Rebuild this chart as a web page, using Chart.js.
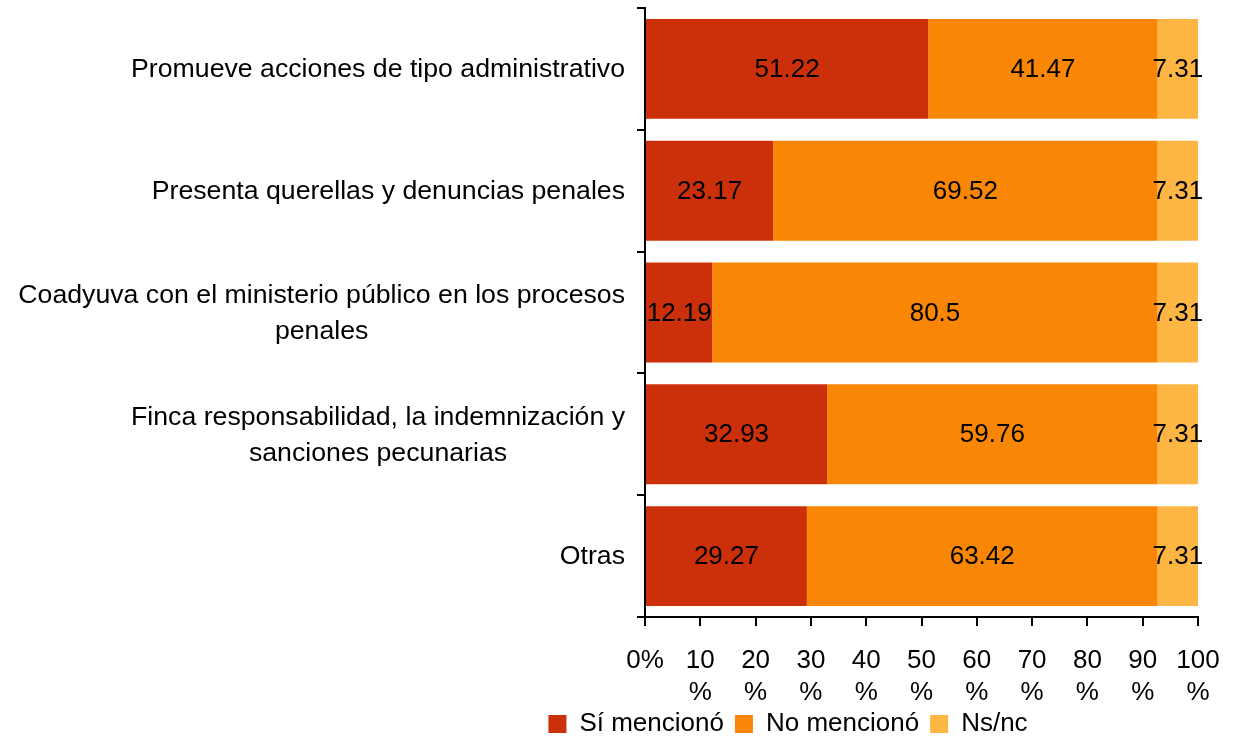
<!DOCTYPE html>
<html>
<head>
<meta charset="utf-8">
<script src="https://cdn.jsdelivr.net/npm/chart.js@4"></script>
<style>
  html, body { margin: 0; padding: 0; background: #fff; }
  #wrap { width: 1233px; height: 737px; position: relative; }
</style>
</head>
<body>
<div id="wrap"><canvas id="c" width="1233" height="737"></canvas></div>
<script>
const categories = [
  ["Promueve acciones de tipo administrativo"],
  ["Presenta querellas y denuncias penales"],
  ["Coadyuva con el ministerio público en los procesos", "penales"],
  ["Finca responsabilidad, la indemnización y", "sanciones pecunarias"],
  ["Otras"]
];
const siMenciono = [51.22, 23.17, 12.19, 32.93, 29.27];
const noMenciono = [41.47, 69.52, 80.5, 59.76, 63.42];
const nsnc = [7.31, 7.31, 7.31, 7.31, 7.31];
const seriesNames = ["Sí mencionó", "No mencionó", "Ns/nc"];
const xTickLabels = ["0%", ["10","%"], ["20","%"], ["30","%"], ["40","%"], ["50","%"], ["60","%"], ["70","%"], ["80","%"], ["90","%"], ["100","%"]];

const FONT = "'Liberation Sans', Arial, sans-serif";
const FS = 26;

const valueLabels = {
  id: 'valueLabels',
  afterDatasetsDraw(chart) {
    const ctx = chart.ctx;
    ctx.save();
    ctx.font = FS + 'px ' + FONT;
    ctx.fillStyle = '#000';
    ctx.textAlign = 'center';
    ctx.textBaseline = 'middle';
    chart.data.datasets.forEach((ds, di) => {
      const meta = chart.getDatasetMeta(di);
      meta.data.forEach((el, i) => {
        const cx = (el.x + el.base) / 2;
        ctx.fillText(String(ds.data[i]), cx, el.y + 1);
      });
    });
    ctx.restore();
  }
};

const categoryLabels = {
  id: 'categoryLabels',
  afterDraw(chart) {
    const ctx = chart.ctx;
    const ys = chart.scales.y;
    const right = chart.chartArea.left - 20;
    const lh = 36;
    ctx.save();
    ctx.font = '26.7px ' + FONT;
    ctx.fillStyle = '#000';
    ctx.textAlign = 'center';
    ctx.textBaseline = 'middle';
    categories.forEach((lines, i) => {
      const y = ys.getPixelForValue(i) + 1;
      const w = Math.max(...lines.map(l => ctx.measureText(l).width));
      const cx = right - w / 2;
      lines.forEach((l, j) => {
        ctx.fillText(l, cx, y + (j - (lines.length - 1) / 2) * lh);
      });
    });
    ctx.restore();
  }
};

// shift legend slightly lower by trimming its reserved height
const legendTrim = {
  id: 'legendTrim',
  beforeLayout(chart) {
    const lg = chart.legend;
    if (lg && !lg._trimmed) {
      const orig = lg.fit;
      lg.fit = function () { orig.call(this); this.height -= 10; };
      lg._trimmed = true;
    }
  }
};

new Chart(document.getElementById('c'), {
  type: 'bar',
  data: {
    labels: categories.map(c => c.join(' ')),
    datasets: [
      { label: seriesNames[0], data: siMenciono, backgroundColor: '#CC300A' },
      { label: seriesNames[1], data: noMenciono, backgroundColor: '#F98705' },
      { label: seriesNames[2], data: nsnc, backgroundColor: '#FDB544' }
    ]
  },
  options: {
    indexAxis: 'y',
    responsive: false,
    animation: false,
    devicePixelRatio: 1,
    layout: { padding: { left: 378, right: 35, top: 8, bottom: 0 } },
    datasets: { bar: { categoryPercentage: 1, barPercentage: 0.82, borderWidth: 0 } },
    scales: {
      x: {
        stacked: true,
        min: 0, max: 100,
        ticks: {
          stepSize: 10,
          color: '#000',
          font: { family: FONT, size: FS, lineHeight: 1.23 },
          padding: 19,
          maxRotation: 0,
          autoSkip: false,
          callback: (v, i) => xTickLabels[i]
        },
        grid: { drawOnChartArea: false, drawTicks: true, tickLength: 9, color: '#000', lineWidth: 2 },
        border: { color: '#000', width: 2 },
        afterFit(s) { s.height = 83; s.paddingRight = 22; s.paddingLeft = 20; }
      },
      y: {
        stacked: true,
        ticks: { display: false },
        grid: { offset: true, drawOnChartArea: false, drawTicks: true, tickLength: 8, color: '#000', lineWidth: 2 },
        border: { color: '#000', width: 2 },
        afterFit(s) { s.width = 645 - 378; }
      }
    },
    plugins: {
      legend: {
        position: 'bottom',
        labels: {
          color: '#000',
          font: { family: FONT, size: FS },
          boxWidth: 18,
          boxHeight: 18,
          padding: 11
        }
      },
      tooltip: { enabled: false }
    }
  },
  plugins: [valueLabels, categoryLabels, legendTrim]
});
</script>
</body>
</html>
